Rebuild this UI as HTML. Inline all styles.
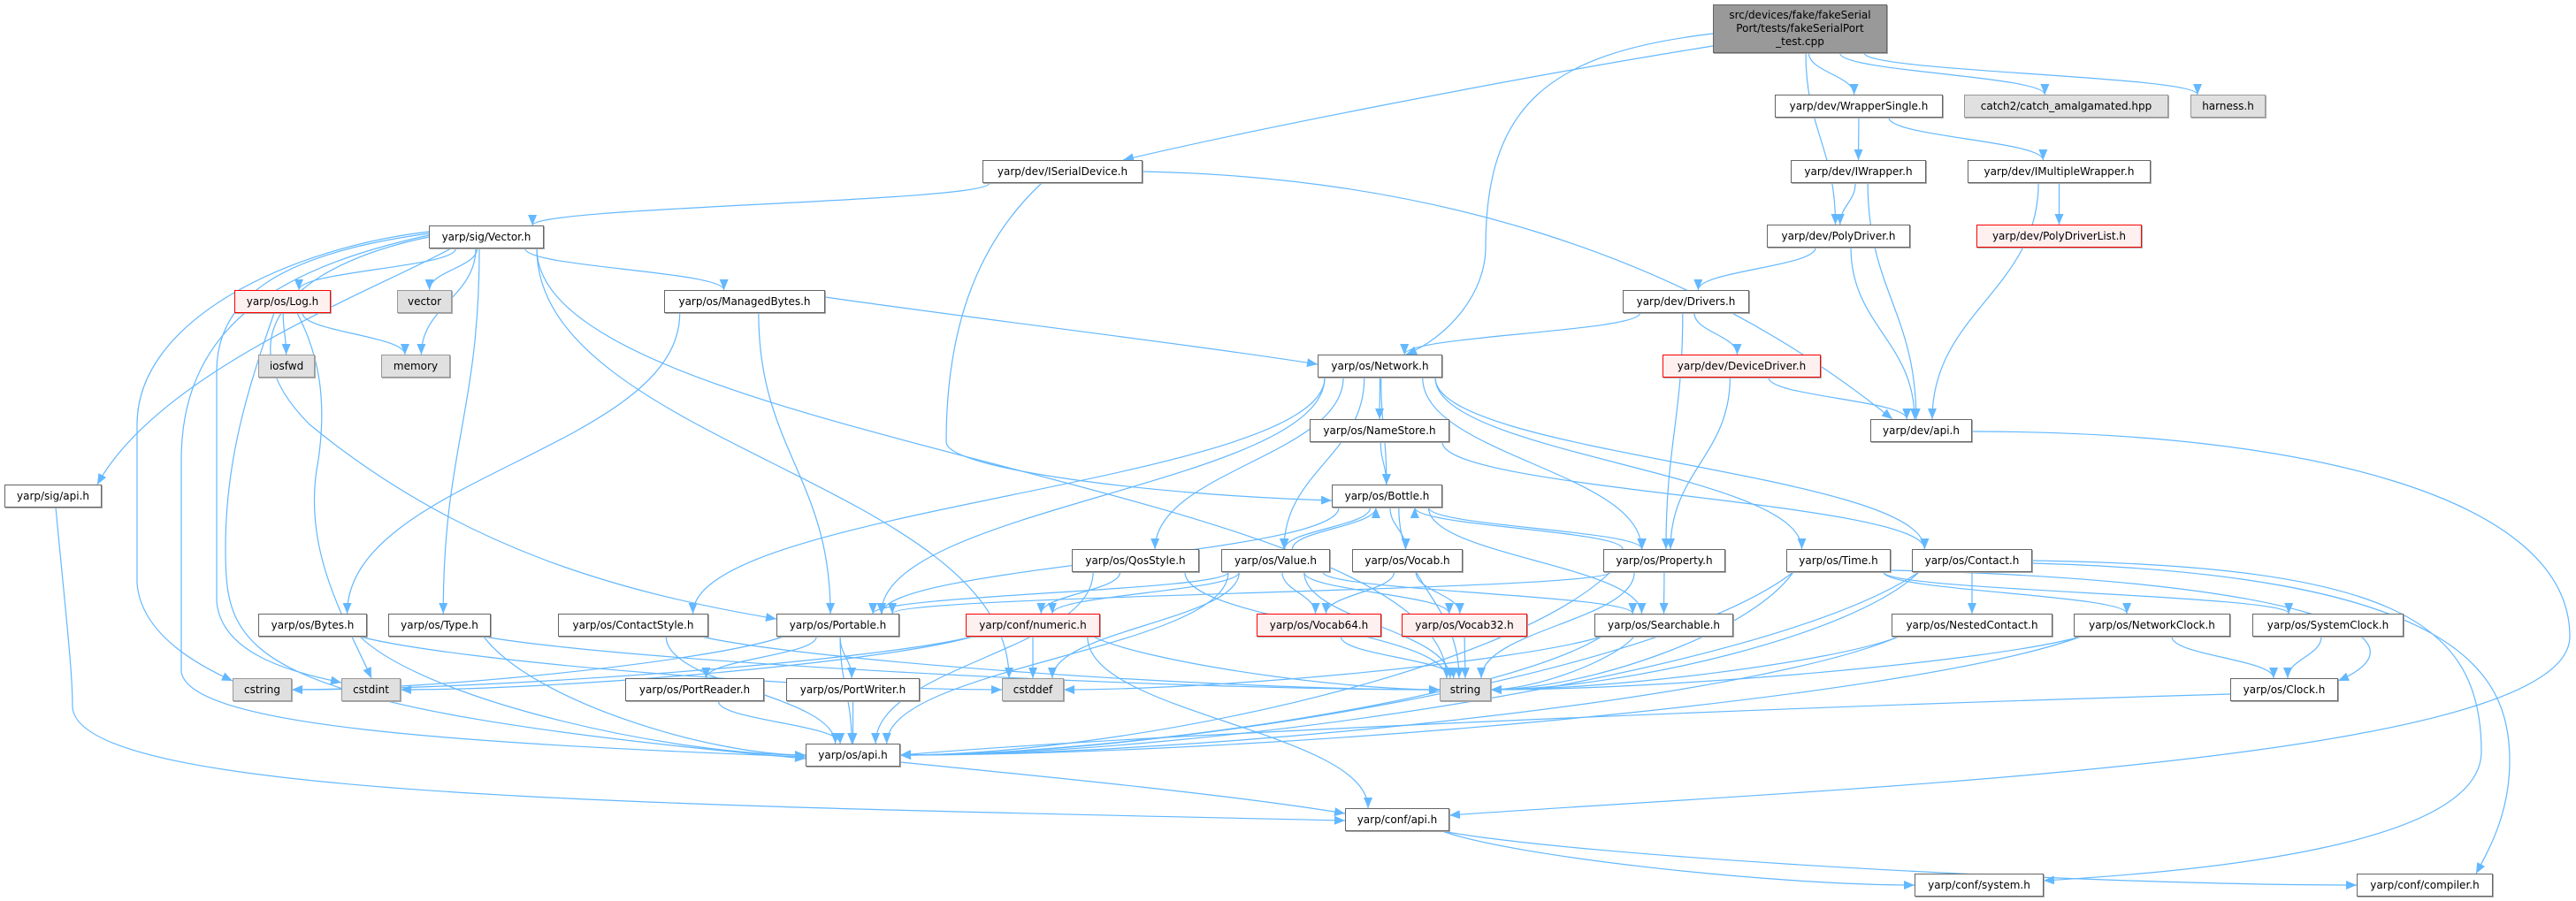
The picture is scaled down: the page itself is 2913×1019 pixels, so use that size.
<!DOCTYPE html>
<html><head><meta charset="utf-8">
<style>
html,body{margin:0;padding:0;background:#fff;}
#c{position:relative;width:2913px;height:1019px;overflow:hidden;}
.n{position:absolute;box-sizing:border-box;border:1px solid #666;background:#fff;font-family:"DejaVu Sans","Liberation Sans",sans-serif;font-size:12px;color:#000;display:flex;align-items:center;justify-content:center;white-space:nowrap;z-index:2;box-shadow:1px 1px 0 #aaa;}
.g{background:#e0e0e0;border-color:#999;}
.r{background:#fff0f0;border-color:#f00;}
.root{background:#999;border-color:#666;text-align:center;line-height:15px;}
svg{position:absolute;left:0;top:0;z-index:1;}
</style></head><body>
<div id="c">
<svg id="s" width="2913" height="1019" xmlns="http://www.w3.org/2000/svg">
<defs><marker id="a" markerUnits="userSpaceOnUse" markerWidth="13" markerHeight="10" refX="12" refY="5" orient="auto"><path d="M0,0 L12,5 L0,10 z" fill="#63b8ff"/></marker></defs>
<g id="e" fill="none" stroke="#63b8ff" stroke-width="1.2"></g>
</svg>
<div class="n root" id="root" style="left:1937px;top:5px;width:197px;height:55px;">src/devices/fake/fakeSerial<br>Port/tests/fakeSerialPort<br>_test.cpp</div>
<div class="n" id="ws" style="left:2007px;top:107px;width:190px;height:26px;">yarp/dev/WrapperSingle.h</div>
<div class="n g" id="catch2" style="left:2221px;top:107px;width:231px;height:26px;">catch2/catch_amalgamated.hpp</div>
<div class="n g" id="harness" style="left:2477px;top:107px;width:85px;height:26px;">harness.h</div>
<div class="n" id="isd" style="left:1111px;top:181px;width:181px;height:26px;">yarp/dev/ISerialDevice.h</div>
<div class="n" id="iw" style="left:2025px;top:181px;width:153px;height:26px;">yarp/dev/IWrapper.h</div>
<div class="n" id="imw" style="left:2225px;top:181px;width:207px;height:26px;">yarp/dev/IMultipleWrapper.h</div>
<div class="n" id="vec" style="left:485px;top:255px;width:130px;height:26px;">yarp/sig/Vector.h</div>
<div class="n" id="pd" style="left:1998px;top:254px;width:162px;height:26px;">yarp/dev/PolyDriver.h</div>
<div class="n r" id="pdl" style="left:2235px;top:254px;width:187px;height:26px;">yarp/dev/PolyDriverList.h</div>
<div class="n r" id="log" style="left:265px;top:328px;width:109px;height:26px;">yarp/os/Log.h</div>
<div class="n g" id="vector" style="left:449px;top:328px;width:62px;height:26px;">vector</div>
<div class="n" id="mb" style="left:751px;top:328px;width:182px;height:26px;">yarp/os/ManagedBytes.h</div>
<div class="n" id="drv" style="left:1835px;top:328px;width:143px;height:26px;">yarp/dev/Drivers.h</div>
<div class="n g" id="iosfwd" style="left:292px;top:401px;width:64px;height:26px;">iosfwd</div>
<div class="n g" id="memory" style="left:431px;top:401px;width:78px;height:26px;">memory</div>
<div class="n" id="net" style="left:1490px;top:401px;width:141px;height:26px;">yarp/os/Network.h</div>
<div class="n r" id="dd" style="left:1880px;top:401px;width:179px;height:26px;">yarp/dev/DeviceDriver.h</div>
<div class="n" id="nstore" style="left:1481px;top:474px;width:158px;height:26px;">yarp/os/NameStore.h</div>
<div class="n" id="devapi" style="left:2115px;top:474px;width:115px;height:26px;">yarp/dev/api.h</div>
<div class="n" id="sigapi" style="left:5px;top:548px;width:110px;height:26px;">yarp/sig/api.h</div>
<div class="n" id="bottle" style="left:1506px;top:548px;width:125px;height:26px;">yarp/os/Bottle.h</div>
<div class="n" id="qos" style="left:1212px;top:621px;width:144px;height:26px;">yarp/os/QosStyle.h</div>
<div class="n" id="value" style="left:1381px;top:621px;width:123px;height:26px;">yarp/os/Value.h</div>
<div class="n" id="vocab" style="left:1529px;top:621px;width:125px;height:26px;">yarp/os/Vocab.h</div>
<div class="n" id="prop" style="left:1813px;top:621px;width:138px;height:26px;">yarp/os/Property.h</div>
<div class="n" id="time" style="left:2020px;top:621px;width:118px;height:26px;">yarp/os/Time.h</div>
<div class="n" id="contact" style="left:2162px;top:621px;width:136px;height:26px;">yarp/os/Contact.h</div>
<div class="n" id="bytes" style="left:292px;top:694px;width:123px;height:26px;">yarp/os/Bytes.h</div>
<div class="n" id="type" style="left:439px;top:694px;width:116px;height:26px;">yarp/os/Type.h</div>
<div class="n" id="cstyle" style="left:631px;top:694px;width:170px;height:26px;">yarp/os/ContactStyle.h</div>
<div class="n" id="portable" style="left:878px;top:694px;width:139px;height:26px;">yarp/os/Portable.h</div>
<div class="n r" id="numeric" style="left:1092px;top:694px;width:152px;height:26px;">yarp/conf/numeric.h</div>
<div class="n r" id="v64" style="left:1421px;top:694px;width:141px;height:26px;">yarp/os/Vocab64.h</div>
<div class="n r" id="v32" style="left:1585px;top:694px;width:142px;height:26px;">yarp/os/Vocab32.h</div>
<div class="n" id="search" style="left:1803px;top:694px;width:157px;height:26px;">yarp/os/Searchable.h</div>
<div class="n" id="nested" style="left:2139px;top:694px;width:182px;height:26px;">yarp/os/NestedContact.h</div>
<div class="n" id="nclock" style="left:2345px;top:694px;width:177px;height:26px;">yarp/os/NetworkClock.h</div>
<div class="n" id="sclock" style="left:2547px;top:694px;width:171px;height:26px;">yarp/os/SystemClock.h</div>
<div class="n g" id="cstring" style="left:263px;top:767px;width:67px;height:26px;">cstring</div>
<div class="n g" id="cstdint" style="left:386px;top:767px;width:67px;height:26px;">cstdint</div>
<div class="n" id="preader" style="left:707px;top:767px;width:157px;height:26px;">yarp/os/PortReader.h</div>
<div class="n" id="pwriter" style="left:889px;top:767px;width:151px;height:26px;">yarp/os/PortWriter.h</div>
<div class="n g" id="cstddef" style="left:1133px;top:767px;width:70px;height:26px;">cstddef</div>
<div class="n g" id="string" style="left:1628px;top:767px;width:58px;height:26px;">string</div>
<div class="n" id="clock" style="left:2522px;top:767px;width:122px;height:26px;">yarp/os/Clock.h</div>
<div class="n" id="osapi" style="left:911px;top:841px;width:107px;height:26px;">yarp/os/api.h</div>
<div class="n" id="confapi" style="left:1521px;top:914px;width:118px;height:26px;">yarp/conf/api.h</div>
<div class="n" id="system" style="left:2165px;top:988px;width:146px;height:26px;">yarp/conf/system.h</div>
<div class="n" id="compiler" style="left:2665px;top:988px;width:154px;height:26px;">yarp/conf/compiler.h</div>
</div>
<script>
var E=[["root","isd"],["root","net"],["root","pd"],["root","ws"],["root","catch2"],["root","harness"],
["ws","iw"],["ws","imw"],["iw","pd"],["iw","devapi"],["imw","pdl"],["imw","devapi"],
["pd","drv"],["pd","devapi"],["drv","net"],["drv","dd"],["drv","prop"],["dd","devapi"],["dd","prop"],
["devapi","confapi"],["isd","vec"],["isd","bottle"],["isd","devapi"],
["vec","log"],["vec","vector"],["vec","memory"],["vec","mb"],["vec","sigapi"],["vec","cstring"],["vec","osapi"],["vec","portable"],["vec","type"],["vec","string"],["vec","cstddef"],["vec","cstdint"],
["log","iosfwd"],["log","memory"],["log","cstdint"],["log","osapi"],
["mb","net"],["mb","bytes"],["mb","portable"],["sigapi","confapi"],
["net","nstore"],["net","cstyle"],["net","portable"],["net","qos"],["net","value"],["net","prop"],["net","time"],["net","contact"],["net","bottle"],
["nstore","bottle"],["nstore","contact"],
["bottle","value"],["bottle","vocab"],["bottle","prop"],["bottle","search"],["bottle","string"],["bottle","portable"],
["value","bottle"],["value","v64"],["value","v32"],["value","numeric"],["value","portable"],["value","search"],["value","string"],["value","cstddef"],["value","osapi"],
["vocab","v64"],["vocab","v32"],["qos","numeric"],["qos","string"],["qos","osapi"],
["prop","bottle"],["prop","search"],["prop","string"],["prop","portable"],["prop","osapi"],
["numeric","cstddef"],["numeric","string"],["numeric","cstdint"],["numeric","cstring"],["numeric","confapi"],
["v64","string"],["v32","string"],["search","string"],["search","cstddef"],["search","osapi"],
["bytes","cstddef"],["bytes","osapi"],["type","string"],["type","osapi"],["cstyle","osapi"],["cstyle","string"],
["portable","preader"],["portable","pwriter"],["portable","osapi"],["portable","cstring"],["preader","osapi"],["pwriter","osapi"],
["osapi","confapi"],["confapi","system"],["confapi","compiler"],
["time","string"],["time","nclock"],["time","sclock"],["time","clock"],["time","osapi"],
["contact","nested"],["contact","string"],["contact","osapi"],["contact","system"],["contact","compiler"],
["nested","string"],["nested","osapi"],["nclock","clock"],["nclock","string"],["nclock","osapi"],["sclock","clock"],["clock","osapi"]];
var C={
"devapi>confapi":"M2230,488 C2600,488 2906,560 2906,720 C2906,860 2100,890 1639,922",
"sigapi>confapi":"M63,574 C75,700 82,760 82,800 C90,900 700,910 1521,928",
"contact>system":"M2298,634 C2700,640 2806,700 2806,850 C2806,955 2500,985 2311,996",
"contact>compiler":"M2298,637 C2780,650 2838,760 2838,860 C2838,920 2815,960 2800,988",
"time>clock":"M2138,645 C2600,655 2760,720 2644,770",
"vec>cstring":"M485,262 C330,280 155,360 155,480 L155,660 C160,720 230,755 263,770",
"vec>cstdint":"M485,264 C330,285 245,330 245,420 L245,680 C250,740 330,760 386,772",
"vec>osapi":"M485,266 C330,300 205,360 205,520 L205,760 C215,820 500,840 911,856",
"vec>portable":"M485,268 C330,300 250,380 350,480 C520,620 700,670 878,700",
"vec>sigapi":"M510,281 C420,330 180,420 110,548",
"log>osapi":"M310,354 C280,440 255,520 255,620 C255,740 270,800 911,858",
"log>cstdint":"M336,354 C360,400 370,450 360,520 C340,620 390,700 420,767",
"mb>net":"M933,336 C1100,360 1350,390 1490,412",
"isd>devapi":"M1292,194 C1600,200 1900,280 2140,474",
"isd>bottle":"M1178,207 C1100,280 1070,380 1070,500 C1070,530 1300,560 1506,566",
"clock>osapi":"M2522,785 C2000,800 1300,830 1018,854",
"osapi>confapi":"M1018,862 C1200,880 1400,900 1521,920",
"root>net":"M1937,38 C1750,60 1680,120 1680,280 C1680,330 1640,380 1590,401",
"root>isd":"M1937,52 C1700,90 1400,150 1270,181"
};
var SIDE={string:1,osapi:1,cstddef:1,cstdint:1,cstring:1,confapi:1,system:1,compiler:1};
function R(id){var d=document.getElementById(id);var x=d.offsetLeft,y=d.offsetTop;return{x1:x,y1:y,x2:x+d.offsetWidth,y2:y+d.offsetHeight,cx:x+d.offsetWidth/2,cy:y+d.offsetHeight/2};}
function cl(v,a,b){return Math.max(a,Math.min(b,v));}
var g=document.getElementById("e"),h="";
E.forEach(function(p){var k=p[0]+">"+p[1];var d;
if(C[k]){d=C[k];}else{
var s=R(p[0]),t=R(p[1]);var sx,sy,tx,ty;
var dx=t.cx-s.cx;
if(t.y1>=s.y2-2){var dy=t.y1-s.y2;
 sx=cl(s.cx+dx*0.15,s.x1+8,s.x2-8);sy=s.y2;
 if(SIDE[p[1]]&&Math.abs(dx)>3*dy+60){
  tx=dx>0?t.x1:t.x2;ty=t.cy;
  d="M"+sx+","+sy+" C"+(sx+(tx-sx)*0.15)+","+(sy+dy*0.6)+" "+(tx-(tx-sx)*0.3)+","+ty+" "+tx+","+ty;
 }else{
  tx=cl(t.cx-dx*0.08,t.x1+8,t.x2-8);ty=t.y1;
  d="M"+sx+","+sy+" C"+sx+","+(sy+dy*0.45)+" "+tx+","+(ty-dy*0.45)+" "+tx+","+ty;}
}else if(t.y2<=s.y1+2){var dy=s.y1-t.y2;sx=cl(s.cx+dx*0.15,s.x1+8,s.x2-8);sy=s.y1;tx=cl(t.cx-dx*0.1,t.x1+8,t.x2-8);ty=t.y2;
 d="M"+sx+","+sy+" C"+sx+","+(sy-dy*0.45)+" "+tx+","+(ty+dy*0.45)+" "+tx+","+ty;}
else{sx=dx>0?s.x2:s.x1;sy=s.cy;tx=dx>0?t.x1:t.x2;ty=t.cy;d="M"+sx+","+sy+" L"+tx+","+ty;}}
h+='<path d="'+d+'" marker-end="url(#a)"/>';});
g.innerHTML=h;
</script>
</body></html>
